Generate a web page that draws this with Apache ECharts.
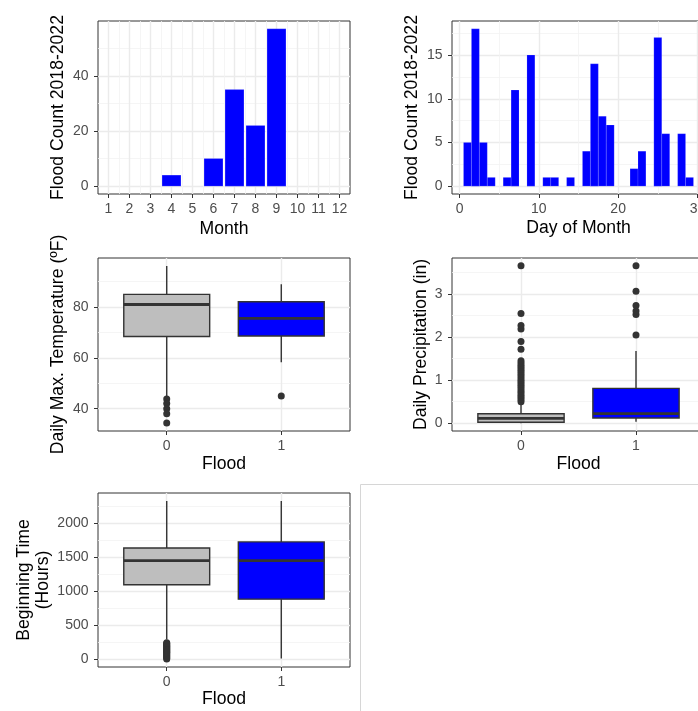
<!DOCTYPE html>
<html>
<head>
<meta charset="utf-8">
<script src="https://cdn.jsdelivr.net/npm/echarts@6/dist/echarts.min.js"></script>
<style>
html, body { margin:0; padding:0; background:#fff; }
#main { width:698px; height:711px; }
</style>
</head>
<body>
<div id="main"></div>
<script>
// ---- data ----
var months = [1, 2, 3, 4, 5, 6, 7, 8, 9, 10, 11, 12];
var monthCounts = [0, 0, 0, 4, 0, 10, 35, 22, 57, 0, 0, 0];

var days = [1, 2, 3, 4, 5, 6, 7, 8, 9, 10, 11, 12, 13, 14, 15, 16, 17, 18, 19, 20, 21, 22, 23, 24, 25, 26, 27, 28, 29];
var dayCounts = [5, 18, 5, 1, 0, 1, 11, 0, 15, 0, 1, 1, 0, 1, 0, 4, 14, 8, 7, 0, 0, 2, 4, 0, 17, 6, 0, 6, 1];

// box stats: [lower whisker, Q1, median, Q3, upper whisker]
var tempNoFlood = [45, 68.4, 81, 85, 96.2];
var tempFlood = [58.3, 68.6, 75.5, 82.1, 89];
var tempOutNoFlood = [43.8, 42, 40, 38, 34.3];
var tempOutFlood = [45];

var precipNoFlood = [0, 0.02, 0.11, 0.22, 0.47];
var precipFlood = [0.03, 0.12, 0.22, 0.81, 1.68];
var precipOutNoFlood = [0.5, 0.55, 0.6, 0.65, 0.7, 0.75, 0.8, 0.85, 0.9, 0.95, 1.0, 1.05, 1.1, 1.15, 1.2, 1.25, 1.3, 1.35, 1.4, 1.45, 1.72, 1.9, 2.19, 2.27, 2.55, 3.66];
var precipOutFlood = [2.05, 2.53, 2.61, 2.74, 3.07, 3.66];

var timeNoFlood = [290, 1095, 1450, 1635, 2328];
var timeFlood = [10, 882, 1450, 1725, 2328];
var timeOutNoFlood = [0, 15, 30, 45, 60, 75, 90, 100, 115, 130, 145, 160, 175, 190, 200, 215, 230, 240];
var timeOutFlood = [];

// ---- axes: ranges, ticks, minor grid ----
var monthRange = [0.5, 12.5];
var monthMinor = [1.5, 2.5, 3.5, 4.5, 5.5, 6.5, 7.5, 8.5, 9.5, 10.5, 11.5];
var count1Range = [-2.85, 59.85];
var count1Ticks = [0, 20, 40];
var count1Minor = [10, 30, 50];

var dayRange = [-0.95, 30.95];
var dayTicks = [0, 10, 20, 30];
var dayMinor = [5, 15, 25];
var count2Range = [-0.9, 18.9];
var count2Ticks = [0, 5, 10, 15];
var count2Minor = [2.5, 7.5, 12.5, 17.5];

var floodRange = [-0.6, 1.6];
var floodTicks = [0, 1];

var tempRange = [31.2, 99.3];
var tempTicks = [40, 60, 80];
var tempMinor = [50, 70, 90];

var precipRange = [-0.183, 3.843];
var precipTicks = [0, 1, 2, 3];
var precipMinor = [0.5, 1.5, 2.5, 3.5];

var timeRange = [-116.4, 2444.4];
var timeTicks = [0, 500, 1000, 1500, 2000];
var timeMinor = [250, 750, 1250, 1750, 2250];

var FONT = 'Liberation Sans, Arial, sans-serif';
var BOX_FILLS = ['#bebebe', '#0000ff'];

var panels = [
    {box: [98, 21, 252, 173],
     x: [monthRange, months, monthMinor, 'Month', 25.5],
     y: [count1Range, count1Ticks, count1Minor, 'Flood Count 2018-2022', 30]},
    {box: [452, 21, 253, 173],
     x: [dayRange, dayTicks, dayMinor, 'Day of Month', 25],
     y: [count2Range, count2Ticks, count2Minor, 'Flood Count 2018-2022', 30]},
    {box: [98, 258, 252, 173],
     x: [floodRange, floodTicks, [], 'Flood', 23.5],
     y: [tempRange, tempTicks, tempMinor, 'Daily Max. Temperature (ºF)', 30]},
    {box: [452, 258, 253, 173],
     x: [floodRange, floodTicks, [], 'Flood', 23.5],
     y: [precipRange, precipTicks, precipMinor, 'Daily Precipitation (in)', 21]},
    {box: [98, 493, 252, 174],
     x: [floodRange, floodTicks, [], 'Flood', 16],
     y: [timeRange, timeTicks, timeMinor, 'Beginning Time\n(Hours)', 45]}
];

var grids = [], xAxes = [], yAxes = [];

function mainAxis(g, a, isX) {
    return {
        type: 'value', gridIndex: g, min: a[0][0], max: a[0][1],
        name: a[3], nameLocation: 'middle', nameGap: a[4],
        nameTextStyle: {color: '#000', fontSize: 17.6, fontFamily: FONT, lineHeight: 19},
        axisLine: {show: false, onZero: false},
        axisTick: {show: true, length: 4, customValues: a[1], lineStyle: {color: '#333', width: 1}},
        axisLabel: {customValues: a[1], color: '#4d4d4d', fontSize: 14, fontFamily: FONT,
                    margin: isX ? 8 : 9.5, formatter: function (v) { return String(v); }},
        splitLine: {show: true, lineStyle: {color: '#ebebeb', width: 1.4}}
    };
}

function minorAxis(g, a) {
    return {
        type: 'value', gridIndex: g, min: a[0][0], max: a[0][1],
        axisLine: {show: false, onZero: false},
        axisTick: {show: false, customValues: a[2].length ? a[2] : [a[0][0]]},
        axisLabel: {show: false},
        splitLine: {show: a[2].length > 0, lineStyle: {color: '#f2f2f2', width: 0.8}}
    };
}

panels.forEach(function (p, i) {
    grids.push({left: p.box[0], top: p.box[1], width: p.box[2], height: p.box[3],
                outerBoundsMode: 'none', containLabel: false,
                show: true, backgroundColor: '#fff', borderColor: '#333', borderWidth: 1});
    xAxes.push(mainAxis(i, p.x, true), minorAxis(i, p.x));
    yAxes.push(mainAxis(i, p.y, false), minorAxis(i, p.y));
});

function barRenderer(width) {
    return function (params, api) {
        var x = api.value(0), h = api.value(1);
        var p0 = api.coord([x - width / 2, h]);
        var p1 = api.coord([x + width / 2, 0]);
        return {
            type: 'rect',
            shape: {x: p0[0], y: p0[1], width: p1[0] - p0[0], height: p1[1] - p0[1]},
            style: {fill: '#0000ff', stroke: 'rgba(255,255,255,0.22)', lineWidth: 0.6}
        };
    };
}

function boxRenderer(params, api) {
    var x = api.value(0), half = 0.375;
    var lo = api.coord([x, api.value(1)]);
    var q1 = api.coord([x, api.value(2)]);
    var q3 = api.coord([x, api.value(4)]);
    var hi = api.coord([x, api.value(5)]);
    var tl = api.coord([x - half, api.value(4)]);
    var br = api.coord([x + half, api.value(2)]);
    var ml = api.coord([x - half, api.value(3)]);
    var mr = api.coord([x + half, api.value(3)]);
    var ls = {stroke: '#333', lineWidth: 1.4};
    return {
        type: 'group',
        children: [
            {type: 'line', shape: {x1: lo[0], y1: lo[1], x2: q1[0], y2: q1[1]}, style: ls},
            {type: 'line', shape: {x1: q3[0], y1: q3[1], x2: hi[0], y2: hi[1]}, style: ls},
            {type: 'rect', shape: {x: tl[0], y: tl[1], width: br[0] - tl[0], height: br[1] - tl[1]},
             style: {fill: BOX_FILLS[params.dataIndex], stroke: '#333', lineWidth: 1.4}},
            {type: 'line', shape: {x1: ml[0], y1: ml[1], x2: mr[0], y2: mr[1]},
             style: {stroke: '#333', lineWidth: 2.8}}
        ]
    };
}

function barData(xs, ys) {
    var out = [];
    xs.forEach(function (x, i) { if (ys[i] > 0) out.push([x, ys[i]]); });
    return out;
}

function outlierData(a, b) {
    return a.map(function (v) { return [0, v]; }).concat(b.map(function (v) { return [1, v]; }));
}

function boxPair(idx, s0, s1, o0, o1) {
    return [
        {type: 'custom', xAxisIndex: idx, yAxisIndex: idx, renderItem: boxRenderer,
         data: [[0].concat(s0), [1].concat(s1)]},
        {type: 'scatter', xAxisIndex: idx, yAxisIndex: idx, symbolSize: 7,
         itemStyle: {color: '#333333', opacity: 1}, data: outlierData(o0, o1)}
    ];
}

var series = [
    {type: 'custom', xAxisIndex: 0, yAxisIndex: 0, renderItem: barRenderer(0.9), data: barData(months, monthCounts)},
    {type: 'custom', xAxisIndex: 2, yAxisIndex: 2, renderItem: barRenderer(1), data: barData(days, dayCounts)}
].concat(
    boxPair(4, tempNoFlood, tempFlood, tempOutNoFlood, tempOutFlood),
    boxPair(6, precipNoFlood, precipFlood, precipOutNoFlood, precipOutFlood),
    boxPair(8, timeNoFlood, timeFlood, timeOutNoFlood, timeOutFlood)
);

var option = {
    backgroundColor: '#fff',
    animation: false,
    grid: grids,
    xAxis: xAxes,
    yAxis: yAxes,
    graphic: [{
        type: 'rect', z: -1,
        shape: {x: 360.5, y: 484.5, width: 400, height: 300},
        style: {fill: 'none', stroke: '#d6d6d6', lineWidth: 1}
    }],
    series: series
};

var chart = echarts.init(document.getElementById('main'));
chart.setOption(option);
</script>
</body>
</html>
